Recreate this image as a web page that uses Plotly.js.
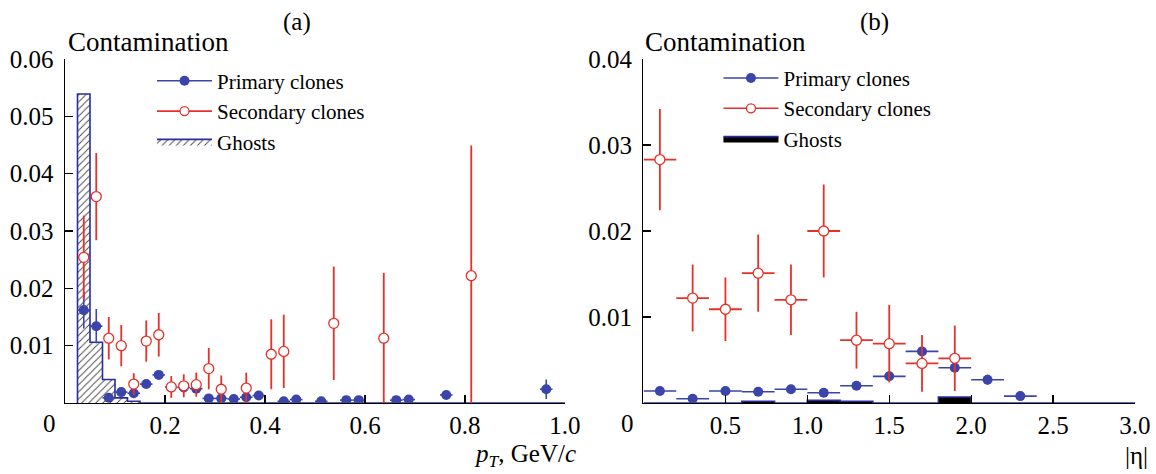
<!DOCTYPE html>
<html>
<head>
<meta charset="utf-8">
<script src="https://cdn.plot.ly/plotly-3.0.1.min.js"></script>
<style>html,body{margin:0;padding:0;background:#fff}#chart{width:1156px;height:474px}</style>
</head>
<body>
<div id="chart"></div>
<script>
// ---------- Panel (a): contamination vs pT ----------
var ptPrimX = [0.0375,0.0625,0.0875,0.1125,0.1375,0.1625,0.1875,0.2125,0.2375,0.2625,0.2875,0.3125,0.3375,0.3625,0.3875,0.4375,0.4625,0.5125,0.5625,0.5875,0.6625,0.6875,0.7625,0.9625];
var ptPrimY = [0.0162,0.0134,0.0009,0.0019,0.0017,0.0033,0.0049,0.0028,0.0027,0.0025,0.0008,0.0008,0.0007,0.0010,0.0013,0.0003,0.0006,0.0003,0.0005,0.0005,0.0005,0.0006,0.0014,0.0024];
var ptPrimErr = [0.0032,0.0030,0.0004,0.0005,0.0005,0.0006,0.0006,0.0005,0.0005,0.0005,0.0003,0.0003,0.0003,0.0003,0.0004,0.0002,0.0002,0.0002,0.0002,0.0002,0.0002,0.0002,0.0006,0.0017];

var ptSecX = [0.0375,0.0625,0.0875,0.1125,0.1375,0.1625,0.1875,0.2125,0.2375,0.2625,0.2875,0.3125,0.3625,0.4125,0.4375,0.5375,0.6375,0.8125];
var ptSecY = [0.0254,0.0360,0.0113,0.0100,0.0033,0.0108,0.0119,0.0028,0.0030,0.0032,0.0060,0.0024,0.0026,0.0085,0.0090,0.0139,0.0113,0.0222];
var ptSecErr = [0.0073,0.0076,0.0037,0.0036,0.0019,0.0036,0.0038,0.0019,0.0020,0.0021,0.0036,0.0024,0.0027,0.0061,0.0064,0.0099,0.0114,0.0227];

var ptGhostEdges = [0.025,0.025,0.05,0.075,0.1,0.125,0.15,1.0];
var ptGhostVals  = [0,0.0539,0.0106,0.0041,0.0009,0.0003,0,0];

// ---------- Panel (b): contamination vs |eta| ----------
var etaPrimX = [0.1,0.3,0.5,0.7,0.9,1.1,1.3,1.5,1.7,1.9,2.1,2.3];
var etaPrimY = [0.0014,0.0005,0.0014,0.0013,0.0016,0.0012,0.0020,0.0031,0.0060,0.0041,0.0027,0.0008];
var etaPrimErr = [0.0003,0.0002,0.0003,0.0003,0.0003,0.0003,0.0003,0.0004,0.0005,0.0005,0.0006,0.0003];

var etaSecX = [0.1,0.3,0.5,0.7,0.9,1.1,1.3,1.5,1.7,1.9];
var etaSecY = [0.0283,0.0122,0.0109,0.0151,0.0120,0.0200,0.0073,0.0069,0.0046,0.0052];
var etaSecErr = [0.0059,0.0039,0.0037,0.0045,0.0041,0.0054,0.0033,0.0045,0.0033,0.0038];

var etaBinHalf = 0.1;
var ptBinHalf = 0.0125;

var etaGhostEdges = [0,0.2,0.4,0.6,0.8,1.0,1.2,1.4,1.6,1.8,2.0,2.2,2.4,2.6,2.8,3.0];
var etaGhostVals  = [0,0,0,0.0002,0,0.0003,0.0002,0,0,0.0007,0,0,0,0,0,0];

var seriesNames = ['Primary clones','Secondary clones','Ghosts'];
var xTicksA = [0.2,0.4,0.6,0.8,1.0];
var xTicksB = [0.5,1.0,1.5,2.0,2.5,3.0];
var yTicksA = [0.01,0.02,0.03,0.04,0.05,0.06];
var yTicksB = [0.01,0.02,0.03,0.04];

var BLUE = '#3b44a8', RED = '#e8302a', NAVY = '#2a2e9c';
var SERIF = '"Liberation Serif","DejaVu Serif",serif';

function primTrace(x, y, e, xe, xa, ya) {
  return {x:x, y:y, type:'scatter', mode:'markers', xaxis:xa, yaxis:ya, showlegend:false,
    marker:{color:BLUE, size:10, line:{width:0}},
    error_y:{type:'data', array:e, color:BLUE, thickness:1.6, width:0},
    error_x:{type:'constant', value:xe, color:BLUE, thickness:1.6, width:0}};
}
function secTrace(x, y, e, xe, xa, ya) {
  var t = {x:x, y:y, type:'scatter', mode:'markers', xaxis:xa, yaxis:ya, showlegend:false,
    marker:{color:'#ffffff', size:10, line:{width:1.3, color:RED}},
    error_y:{type:'data', array:e, color:RED, thickness:1.8, width:0}};
  if (xe) t.error_x = {type:'constant', value:xe, color:RED, thickness:1.8, width:0};
  return t;
}
function legendTrace(name, kind, legend, rank) {
  var t = {x:[null], y:[null], type:'scatter', name:name, legend:legend, legendrank:rank, showlegend:true,
    mode:'lines+markers', line:{width:1.6}};
  if (kind === 'prim') { t.line.color = BLUE; t.marker = {color:BLUE, size:10}; }
  else { t.line.color = RED; t.marker = {color:'#fff', size:9, line:{width:1.3, color:RED}}; }
  return t;
}

var data = [
  {x:ptGhostEdges, y:ptGhostVals, type:'scatter', mode:'lines', line:{shape:'hv', color:NAVY, width:1.6},
   fill:'tozeroy', fillcolor:'rgba(255,255,255,0)',
   fillpattern:{shape:'/', fgcolor:'#444', bgcolor:'#ffffff', size:5, solidity:0.18},
   name:seriesNames[2], legend:'legend', legendrank:3, xaxis:'x', yaxis:'y'},
  primTrace(ptPrimX, ptPrimY, ptPrimErr, ptBinHalf, 'x', 'y'),
  secTrace(ptSecX, ptSecY, ptSecErr, 0, 'x', 'y'),
  legendTrace(seriesNames[0], 'prim', 'legend', 1),
  legendTrace(seriesNames[1], 'sec', 'legend', 2),

  {x:etaGhostEdges, y:etaGhostVals, type:'scatter', mode:'lines', line:{shape:'hv', color:NAVY, width:1.6},
   fill:'tozeroy', fillcolor:'#000000',
   name:seriesNames[2], legend:'legend2', legendrank:3, xaxis:'x2', yaxis:'y2'},
  primTrace(etaPrimX, etaPrimY, etaPrimErr, etaBinHalf, 'x2', 'y2'),
  secTrace(etaSecX, etaSecY, etaSecErr, etaBinHalf, 'x2', 'y2'),
  legendTrace(seriesNames[0], 'prim', 'legend2', 1),
  legendTrace(seriesNames[1], 'sec', 'legend2', 2)
];

function xAxis(domain, range, ticks, anchor) {
  return {domain:domain, range:range, anchor:anchor, tickvals:ticks, ticktext:ticks.map(function(v){return v.toFixed(1);}),
    ticks:'inside', ticklen:8, tickwidth:1.2, tickcolor:'#000', showline:true, linecolor:'#000', linewidth:1.5,
    showgrid:false, zeroline:false, tickfont:{family:SERIF, size:25, color:'#000'}, fixedrange:true};
}
function yAxis(range, ticks, anchor) {
  return {domain:[0.14979,0.87553], range:range, anchor:anchor, tickvals:ticks, ticktext:ticks.map(function(v){return v.toFixed(2);}),
    ticks:'inside', ticklen:8, tickwidth:1.2, tickcolor:'#000', showline:true, linecolor:'#000', linewidth:1.5,
    showgrid:false, zeroline:false, tickfont:{family:SERIF, size:25, color:'#000'}, ticklabelstandoff:5, fixedrange:true};
}

function ann(text, x, y, xanchor, size) {
  return {text:text, x:x, y:y, xref:'paper', yref:'paper', xanchor:xanchor, yanchor:'middle', showarrow:false,
    font:{family:SERIF, size:size, color:'#000'}};
}

var layout = {
  width:1156, height:474, margin:{l:0, r:0, t:0, b:0}, paper_bgcolor:'#fff', plot_bgcolor:'rgba(0,0,0,0)',
  font:{family:SERIF, color:'#000'},
  xaxis: xAxis([0.05623,0.48875], [0,1], xTicksA, 'y'),
  yaxis: yAxis([0,0.06], yTicksA, 'x'),
  xaxis2: xAxis([0.55666,0.98183], [0,3], xTicksB, 'y2'),
  yaxis2: yAxis([0,0.04], yTicksB, 'x2'),
  legend:{x:0.1315, y:0.872, xanchor:'left', yanchor:'top', bgcolor:'rgba(0,0,0,0)', borderwidth:0,
    font:{family:SERIF, size:21, color:'#000'}, tracegroupgap:0, itemwidth:55},
  legend2:{x:0.6215, y:0.878, xanchor:'left', yanchor:'top', bgcolor:'rgba(0,0,0,0)', borderwidth:0,
    font:{family:SERIF, size:21, color:'#000'}, tracegroupgap:0, itemwidth:55},
  annotations:[
    ann('(a)', 0.2569, 0.9536, 'center', 25),
    ann('(b)', 0.7561, 0.9536, 'center', 25),
    ann('Contamination', 0.0571, 0.9114, 'left', 27),
    ann('Contamination', 0.5562, 0.9114, 'left', 27),
    ann('0', 0.0424, 0.1055, 'center', 25),
    ann('0', 0.5424, 0.1055, 'center', 25),
    ann('<i>p</i><sub><i>T</i></sub>, GeV/<i>c</i>', 0.5, 0.04, 'right', 25),
    ann('|η|', 0.9948, 0.04, 'right', 25)
  ]
};

Plotly.newPlot('chart', data, layout, {displayModeBar:false, staticPlot:true});
</script>
</body>
</html>
